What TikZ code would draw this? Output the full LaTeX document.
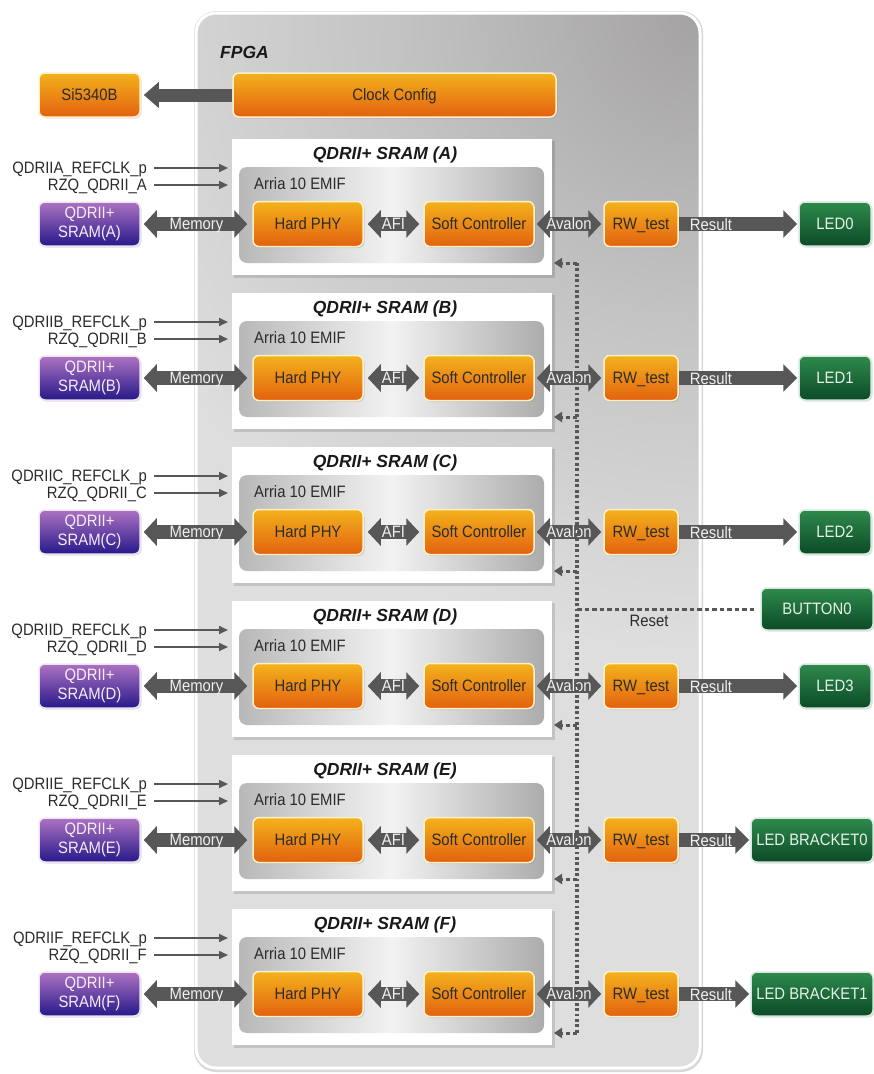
\documentclass[tikz,border=0pt]{standalone}
\usepackage{fontspec}
\setmainfont{Liberation Sans}[FakeStretch=0.9]
\newfontfamily\titlefont{Liberation Sans}
\usetikzlibrary{arrows.meta,shadows}
\definecolor{orTop}{HTML}{F3B21C}
\definecolor{orBot}{HTML}{E3610F}
\definecolor{orLine}{HTML}{FFF1C6}
\definecolor{puTop}{HTML}{AD72C2}
\definecolor{puBot}{HTML}{27198A}
\definecolor{grTop}{HTML}{2F8A4C}
\definecolor{grBot}{HTML}{0B4A27}
\definecolor{arr}{HTML}{575757}
\definecolor{fpDark}{HTML}{A4A2A2}
\definecolor{fpMid}{HTML}{C4C3C3}
\definecolor{fpLight}{HTML}{DEDEDE}
\definecolor{emL}{HTML}{B8B8B8}
\definecolor{emR}{HTML}{ACACAC}
\definecolor{txt}{HTML}{2B2B2B}
\pgfdeclareradialshading{fpgash}{\pgfpoint{0bp}{0bp}}{color(0bp)=(fpDark); color(10bp)=(fpMid); color(21bp)=(fpLight); color(50bp)=(fpLight)}
\tikzset{
 base/.style={rounded corners=6pt, minimum height=44pt, inner sep=0pt, align=center,
   font=\fontsize{16.5}{18}\selectfont, line width=1.5pt,
   drop shadow={shadow xshift=1.5pt, shadow yshift=-1.5pt, opacity=0.25}},
 orangebox/.style={base, draw=orLine, top color=orTop, bottom color=orBot, text=txt, text height=11.8pt, text depth=0pt},
 purplebox/.style={base, draw=white!80!puTop, top color=puTop, bottom color=puBot,
   text=white!88!puTop, font=\fontsize{16.5}{19}\selectfont},
 greenbox/.style={base, draw=white!80!grTop, top color=grTop, bottom color=grBot, text=white!88!grTop, text height=11.8pt, text depth=0pt},
 bigarrow/.style={draw=arr, line width=14pt, -{Triangle[length=14pt,width=27pt]}},
 dblarrow/.style={draw=arr, line width=14pt, {Triangle[length=13pt,width=27pt]}-{Triangle[length=13pt,width=27pt]}},
 arrtext/.style={text=white!94!black, font=\fontsize{16.5}{18}\selectfont, inner sep=0pt, text height=11.8pt, text depth=0pt},
 inlbl/.style={text=txt, font=\fontsize{16.5}{18}\selectfont, inner sep=0pt, text height=11.8pt, text depth=0pt},
 inarrow/.style={draw=arr, line width=1.6pt, -{Triangle[length=9pt,width=8pt]}},
 dasharrow/.style={draw=arr, line width=3pt, dash pattern=on 4pt off 3pt, -{Triangle[length=8pt,width=10pt]}},
 dotline/.style={draw=arr, line width=3.2pt, dash pattern=on 2.8pt off 2.6pt},
 resetline/.style={draw=arr, line width=3pt, dash pattern=on 4.5pt off 3pt},
 titletext/.style={font=\titlefont\fontsize{17.5}{20}\selectfont\bfseries\itshape, text=black!90, inner sep=0pt},
 plaintext/.style={font=\fontsize{16.5}{18}\selectfont, text=txt, inner sep=0pt}
}
\begin{document}
\begin{tikzpicture}[x=1pt,y=-1pt]
\useasboundingbox (0,0) rectangle (874,1074);
% FPGA box
\fill[black!35, opacity=0.45, rounded corners=22pt] (194,11) rectangle (703,1072);
\begin{scope}
\clip[rounded corners=20pt] (196,13) rectangle (700,1068);
\fill[fpLight] (196,13) rectangle (700,1068);
\shade[shading=fpgash] (700,13) circle (760);
\end{scope}
\draw[white, line width=3pt, rounded corners=20pt] (196,13) rectangle (700,1068);
\node[titletext, anchor=west] (fpga) at (220,52) {FPGA};
% clock
\node[orangebox, minimum width=101pt] (si) at (89.5,95) {Si5340B};
\node[orangebox, minimum width=323pt] (cc) at (394.5,95) {Clock Config};
\draw[draw=arr, line width=13pt, -{Triangle[length=15pt,width=25pt]}, shorten >=3pt] (cc) -- (si);
% blocks
\foreach \L/\r/\led/\lw/\lx in {A/224/LED0/72/835, B/378/LED1/72/835, C/532/LED2/72/835, D/686/LED3/72/835, E/840/LED BRACKET0/122/812, F/994/LED BRACKET1/122/812} {
  \fill[black, opacity=0.12] (234,\r-83) rectangle (555,\r+54);
  \fill[white] (232,\r-85) rectangle (552,\r+51);
  \shade[rounded corners=8pt, left color=emL, right color=emR, middle color=white!95!black] (239,\r-57) rectangle (544,\r+39);
  \node[titletext] (t\L) at (385,\r-69) {QDRII+ SRAM (\L)};
  \node[plaintext, anchor=west] (em\L) at (254,\r-40) {Arria 10 EMIF};
  \node[inlbl, anchor=east] (rc\L) at (147,\r-56) {QDRII\L\_REFCLK\_p};
  \node[inlbl, anchor=east] (rz\L) at (147,\r-39) {RZQ\_QDRII\_\L};
  \coordinate (rcE\L) at (228,\r-56);
  \coordinate (rzE\L) at (228,\r-39);
  \draw[inarrow, shorten <=7pt] (rc\L) -- (rcE\L);
  \draw[inarrow, shorten <=7pt] (rz\L) -- (rzE\L);
  \node[purplebox, minimum width=101pt] (sram\L) at (89.5,\r) {QDRII+\\SRAM(\L)};
  \node[orangebox, minimum width=110pt, minimum height=45pt] (hp\L) at (308,\r) {Hard PHY};
  \node[orangebox, minimum width=110pt, minimum height=45pt] (sc\L) at (479,\r) {Soft Controller};
  \node[orangebox, minimum width=74pt, minimum height=45pt] (rw\L) at (641,\r) {RW\_test};
  \node[greenbox, minimum width=\lw pt] (led\L) at (\lx,\r) {\led};
  \draw[dblarrow, shorten <=3pt, shorten >=5pt] (sram\L) -- node[arrtext]{Memory} (hp\L);
  \draw[dblarrow, shorten <=4pt, shorten >=4pt] (hp\L) -- node[arrtext]{AFI} (sc\L);
  \draw[dblarrow, shorten <=2pt, shorten >=2pt] (sc\L) -- node[arrtext]{Avalon} (rw\L);
  \draw[bigarrow, shorten >=1pt] (rw\L) -- (led\L);
  \node[arrtext] (res\L) at (711,\r+1) {Result};
  \coordinate (vt\L) at (577,\r+39);
  \coordinate (dt\L) at (554,\r+39);
  \draw[dasharrow] (vt\L) -- (dt\L);
}
\draw[dotline] (vtA) -- (vtF);
\coordinate (rst) at (577,609);
\node[greenbox, minimum width=112pt, minimum height=42pt] (btn) at (817,609) {BUTTON0};
\draw[resetline, shorten >=4pt] (rst) -- (btn);
\node[plaintext] (rstlbl) at (649,621) {Reset};
\end{tikzpicture}
\end{document}
